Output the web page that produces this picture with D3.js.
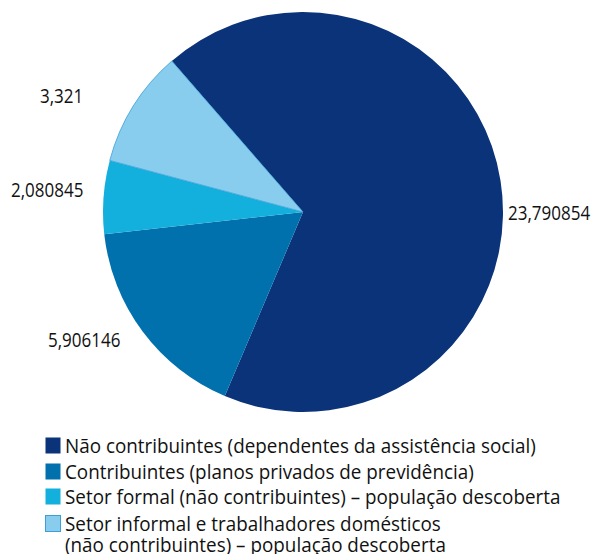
<!DOCTYPE html>
<html>
<head>
<meta charset="utf-8">
<script src="https://cdn.jsdelivr.net/npm/d3@7"></script>
<style>
  body { margin: 0; background: #fff; }
  text { font-family: "Open Sans", sans-serif; fill: #111; }
</style>
</head>
<body>
<div id="chart"></div>
<script>
var wd = 597;
var ht = 554;

// data
var categories = [
  "Não contribuintes (dependentes da assistência social)",
  "Contribuintes (planos privados de previdência)",
  "Setor formal (não contribuintes) – população descoberta",
  "Setor informal e trabalhadores domésticos|(não contribuintes) – população descoberta"
];
var values = [23.790854, 5.906146, 2.080845, 3.321];
var valueLabels = ["23,790854", "5,906146", "2,080845", "3,321"];
var colors = ["#0b3379", "#0071ad", "#13afdd", "#88cdee"];

var cx = 303, cy = 212, radius = 200;

var svg = d3.select("#chart").append("svg").attr("width", wd).attr("height", ht);

var pie = d3.pie().sort(null).value(function(d) { return d; })
  .startAngle(-41 * Math.PI / 180)
  .endAngle((360 - 41) * Math.PI / 180);
var arc = d3.arc().innerRadius(0).outerRadius(radius);

var arcs = pie(values);

var g = svg.append("g").attr("transform", "translate(" + cx + "," + cy + ")");
g.selectAll("path").data(arcs).enter().append("path")
  .attr("d", arc)
  .attr("fill", function(d, i) { return colors[i]; })
  .attr("stroke", function(d, i) { return i == 3 ? "#3d9fd6" : "none"; })
  .attr("stroke-width", 0.8);

// value labels outside the slices (narrow face -> squeeze horizontally)
var labelPos = [
  {x: 508, y: 220},
  {x: 48, y: 347},
  {x: 11, y: 197},
  {x: 40, y: 103}
];
svg.selectAll("g.val").data(valueLabels).enter().append("g")
  .attr("class", "val")
  .attr("transform", function(d, i) { return "translate(" + labelPos[i].x + "," + labelPos[i].y + ") scale(0.85,1)"; })
  .append("text")
  .style("font-size", "20px")
  .text(function(d) { return d; });

// legend
var legend = svg.append("g").attr("transform", "translate(45,437)");
var rowY = [0, 26, 51, 78];
var items = legend.selectAll("g").data(categories).enter().append("g")
  .attr("transform", function(d, i) { return "translate(0," + rowY[i] + ")"; });
items.append("rect")
  .attr("x", 0.5).attr("y", 0.5)
  .attr("width", 15).attr("height", 16)
  .attr("fill", function(d, i) { return colors[i]; })
  .attr("stroke", function(d, i) { return i == 3 ? "#3d9fd6" : "none"; })
  .attr("stroke-width", 1);
items.each(function(d) {
  var lines = d.split("|");
  var t = d3.select(this).append("g").attr("transform", "translate(20,16) scale(0.92,1)")
    .append("text").style("font-size", "20.5px");
  lines.forEach(function(l, k) {
    t.append("tspan").attr("x", 0).attr("dy", k == 0 ? 0 : 21).text(l);
  });
});
</script>
</body>
</html>
